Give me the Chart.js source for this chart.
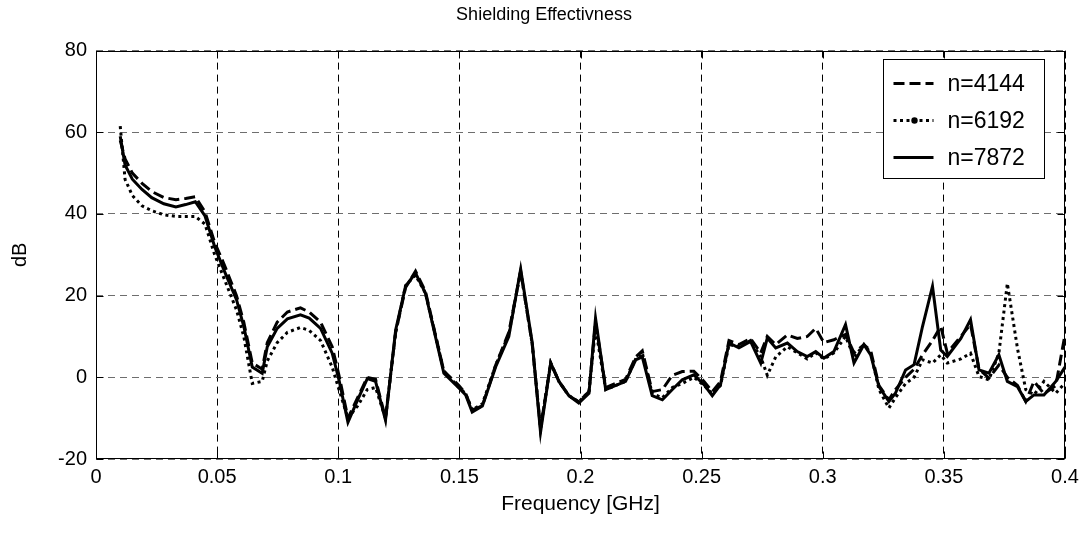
<!DOCTYPE html>
<html>
<head>
<meta charset="utf-8">
<script src="https://cdn.jsdelivr.net/npm/chart.js@4.4.0/dist/chart.umd.min.js"></script>
<style>
  body { margin: 0; background: #fff; }
  #wrap { width: 1088px; height: 536px; }
</style>
</head>
<body>
<div id="wrap"><canvas id="chart-area"></canvas></div>
<script>
// frequency points in GHz
var freq = [
  0.010, 0.012, 0.015, 0.019, 0.023, 0.028, 0.033, 0.037, 0.041, 0.045,
  0.049, 0.053, 0.058, 0.061, 0.0645, 0.0686, 0.0707, 0.0748, 0.079, 0.0844,
  0.088, 0.0927, 0.0975, 0.1003, 0.104, 0.108, 0.112, 0.1154, 0.1195, 0.1237,
  0.1278, 0.1319, 0.136, 0.1436, 0.1498, 0.1526, 0.1553, 0.1595, 0.165, 0.1704,
  0.1753, 0.1801, 0.1835, 0.1877, 0.1911, 0.1952, 0.1993, 0.2035, 0.2062, 0.2104,
  0.2186, 0.2228, 0.2255, 0.2296, 0.2338, 0.2379, 0.242, 0.2468, 0.251, 0.2544,
  0.2578, 0.2613, 0.2654, 0.2702, 0.2744, 0.2771, 0.2806, 0.2854, 0.2895, 0.2936,
  0.2971, 0.3005, 0.3046, 0.3094, 0.3129, 0.317, 0.3198, 0.3232, 0.3273, 0.33,
  0.3342, 0.3377, 0.3412, 0.3453, 0.3487, 0.3514, 0.357, 0.361, 0.3645, 0.3686,
  0.3727, 0.3762, 0.3804, 0.3838, 0.3872, 0.3913, 0.3962, 0.4
];

// n=4144 (dashed)
var se4144 = [
  58, 53.5, 50, 47.5, 45.5, 44, 43.5, 43.8, 44.2, 40.5,
  33, 27.5, 20, 13.5, 3.5, 2, 8.5, 13.5, 16, 17,
  16, 13.5, 7.5, 0.5, -10, -5, 0, -0.5, -10, 11,
  22, 26, 21, 1.5, -2, -4, -8, -7, 3, 11,
  26, 8, -12.5, 3.5, -1, -4.5, -6, -3.5, 13.5, -2.5,
  -0.5, 5, 6.5, -3.5, -3, 0.5, 1.4, 1.5, -1, -3.5,
  -1, 9, 8, 9.5, 6, 10, 8, 10.4, 9.5, 10,
  12, 8.5, 9.2, 10.5, 6, 8, 6.5, -2, -5.5, -3,
  0, 2, 5.5, 9, 12.5, 6, 10, 13, 2, -0.2,
  3, 0, -2, -5.9, -1, -4, -2, 10.5
];

// n=6192 (dotted)
var se6192 = [
  61.5, 48.5, 44.5, 42, 40.8, 39.8, 39.4, 39.4, 39.4, 37.5,
  30, 24, 16.5, 10, -1.5, -1, 4, 8.5, 11, 12.2,
  11.5, 9, 2.5, -3, -10, -7, -3, -2.5, -10, 11,
  22.5, 25, 20.6, 1.5, -2.5, -4, -8, -6.5, 3, 10.5,
  26, 8, -12.5, 3.5, -1, -4.5, -6, -3.5, 12, -3,
  -1, 4.5, 6, -4, -5, -2.5, -1.5, 0, -2, -4,
  -2, 8, 7.5, 9, 5, 0.5, 5, 7.5, 6, 4.5,
  6, 4.5, 6, 10, 5, 8, 6, -3, -7.5, -5,
  -1.5, 0, 4.3, 3.5, 5.5, 3.5, 4.5, 5.9, 0.2, -0.6,
  5.9, 23, 7, -3, -4.3, -1, -3.9, -1.4
];

// n=7872 (solid)
var se7872 = [
  59, 52, 48.5, 46, 44, 42.5, 41.7, 42.3, 43, 39.5,
  32, 26, 19, 12.5, 2.5, 1, 7.5, 12, 14.3, 15.3,
  14.5, 12, 5.9, -0.6, -11, -5.5, -0.3, -1, -10.5, 11.6,
  22.3, 25.5, 20.6, 1, -2.6, -4.3, -8.5, -7, 2.6, 10,
  26.5, 8.4, -13.5, 3.5, -1, -4.5, -6.3, -3.9, 14.5, -3,
  -1, 4.3, 5, -4.5, -5.5, -3, -0.6, 0.6, -1.8, -4.5,
  -1.8, 8.4, 7.2, 8.8, 3.5, 9.6, 7.2, 8.4, 6.3, 5.1,
  6.3, 4.7, 6.3, 12.9, 3.5, 8, 5.5, -2.3, -5.9, -3.9,
  1.8, 3.1, 12.5, 22.3, 6.7, 5.1, 9.5, 14.1, 1.8, 1,
  5.5, -1, -2.3, -5.9, -4.3, -4.3, -1, 2.5
];

var seriesLabels = ['n=4144', 'n=6192', 'n=7872'];

function toPoints(vals) {
  return vals.map(function(v, i) { return { x: freq[i], y: v }; });
}

var FONT = "'Liberation Sans', Arial, sans-serif";
Chart.defaults.font.family = FONT;
Chart.defaults.color = '#000';

// box around the axes, inner tick marks and the legend inside the plot
var framePlugin = {
  id: 'frame',
  afterDraw: function(chart) {
    var ctx = chart.ctx, a = chart.chartArea;
    var xs = chart.scales.x, ys = chart.scales.y;
    var L = Math.round(a.left) + 0.5, R = Math.round(a.right) - 0.5;
    var T = Math.round(a.top) + 0.5, B = Math.round(a.bottom) - 0.5;
    ctx.save();
    ctx.strokeStyle = '#000';
    ctx.lineWidth = 1;
    ctx.setLineDash([]);
    ctx.beginPath();
    xs.ticks.forEach(function(t) {
      var px = Math.round(xs.getPixelForValue(t.value)) + 0.5;
      ctx.moveTo(px, B); ctx.lineTo(px, B - 7);
      ctx.moveTo(px, T); ctx.lineTo(px, T + 7);
    });
    ys.ticks.forEach(function(t) {
      var py = Math.round(ys.getPixelForValue(t.value)) + 0.5;
      ctx.moveTo(L, py); ctx.lineTo(L + 7, py);
      ctx.moveTo(R, py); ctx.lineTo(R - 7, py);
    });
    ctx.stroke();
    ctx.strokeRect(L, T, R - L, B - T);

    // legend
    var bw = 161, bh = 119;
    var bx = Math.round(a.right) - 21 - bw + 0.5;
    var by = Math.round(a.top) + 8 + 0.5;
    ctx.fillStyle = '#fff';
    ctx.fillRect(bx, by, bw, bh);
    ctx.strokeRect(bx, by, bw, bh);
    ctx.font = '23px ' + FONT;
    ctx.textBaseline = 'middle';
    ctx.textAlign = 'left';
    chart.data.datasets.forEach(function(ds, i) {
      var ry = by + 24 + i * 37;
      ctx.save();
      ctx.strokeStyle = '#000';
      ctx.lineWidth = ds.borderWidth;
      ctx.setLineDash(ds.borderDash || []);
      ctx.beginPath();
      ctx.moveTo(bx + 10, ry);
      ctx.lineTo(bx + 50, ry);
      ctx.stroke();
      if (ds.legendDot) {
        ctx.fillStyle = '#000';
        ctx.beginPath();
        ctx.arc(bx + 31, ry, 3.2, 0, Math.PI * 2);
        ctx.fill();
      }
      ctx.restore();
      ctx.fillStyle = '#000';
      ctx.fillText(ds.label, bx + 64, ry + 1);
    });
    ctx.restore();
  }
};

var config = {
  type: 'line',
  data: {
    datasets: [{
      label: seriesLabels[0],
      data: toPoints(se4144),
      borderColor: '#000',
      borderWidth: 3,
      borderDash: [11, 5]
    }, {
      label: seriesLabels[1],
      data: toPoints(se6192),
      borderColor: '#000',
      borderWidth: 3,
      borderDash: [3, 3.5],
      legendDot: true
    }, {
      label: seriesLabels[2],
      data: toPoints(se7872),
      borderColor: '#000',
      borderWidth: 3
    }]
  },
  options: {
    responsive: true,
    maintainAspectRatio: false,
    animation: false,
    layout: { padding: { left: 23, right: 23, top: 0, bottom: 0 } },
    elements: { point: { radius: 0 }, line: { tension: 0, fill: false } },
    plugins: {
      legend: { display: false },
      tooltip: { enabled: false },
      title: {
        display: true,
        text: 'Shielding Effectivness',
        color: '#000',
        font: { size: 18, weight: 'normal' },
        padding: { top: 4, bottom: 25 }
      }
    },
    scales: {
      x: {
        type: 'linear',
        min: 0,
        max: 0.4,
        afterFit: function(scale) { scale.height = 77; },
        ticks: {
          stepSize: 0.05,
          font: { size: 20 },
          padding: 6,
          maxRotation: 0,
          callback: function(v) { return String(Number(v.toFixed(2))); }
        },
        grid: { color: '#000', lineWidth: 1, drawTicks: false },
        border: { display: false, dash: [7, 5] },
        title: {
          display: true,
          text: 'Frequency [GHz]',
          font: { size: 21 },
          padding: { top: 0, bottom: 19 }
        }
      },
      y: {
        min: -20,
        max: 80,
        afterFit: function(scale) { scale.width = 73; },
        ticks: { stepSize: 20, font: { size: 20 }, padding: 9 },
        grid: { color: '#6e6e6e', lineWidth: 1, drawTicks: false },
        border: { display: false, dash: [7, 5] },
        title: {
          display: true,
          text: 'dB',
          font: { size: 20 },
          padding: { top: -15, bottom: 0 }
        }
      }
    }
  },
  plugins: [framePlugin]
};

window.onload = function() {
  var ctx = document.getElementById('chart-area').getContext('2d');
  window.myChart = new Chart(ctx, config);
};
</script>
</body>
</html>
